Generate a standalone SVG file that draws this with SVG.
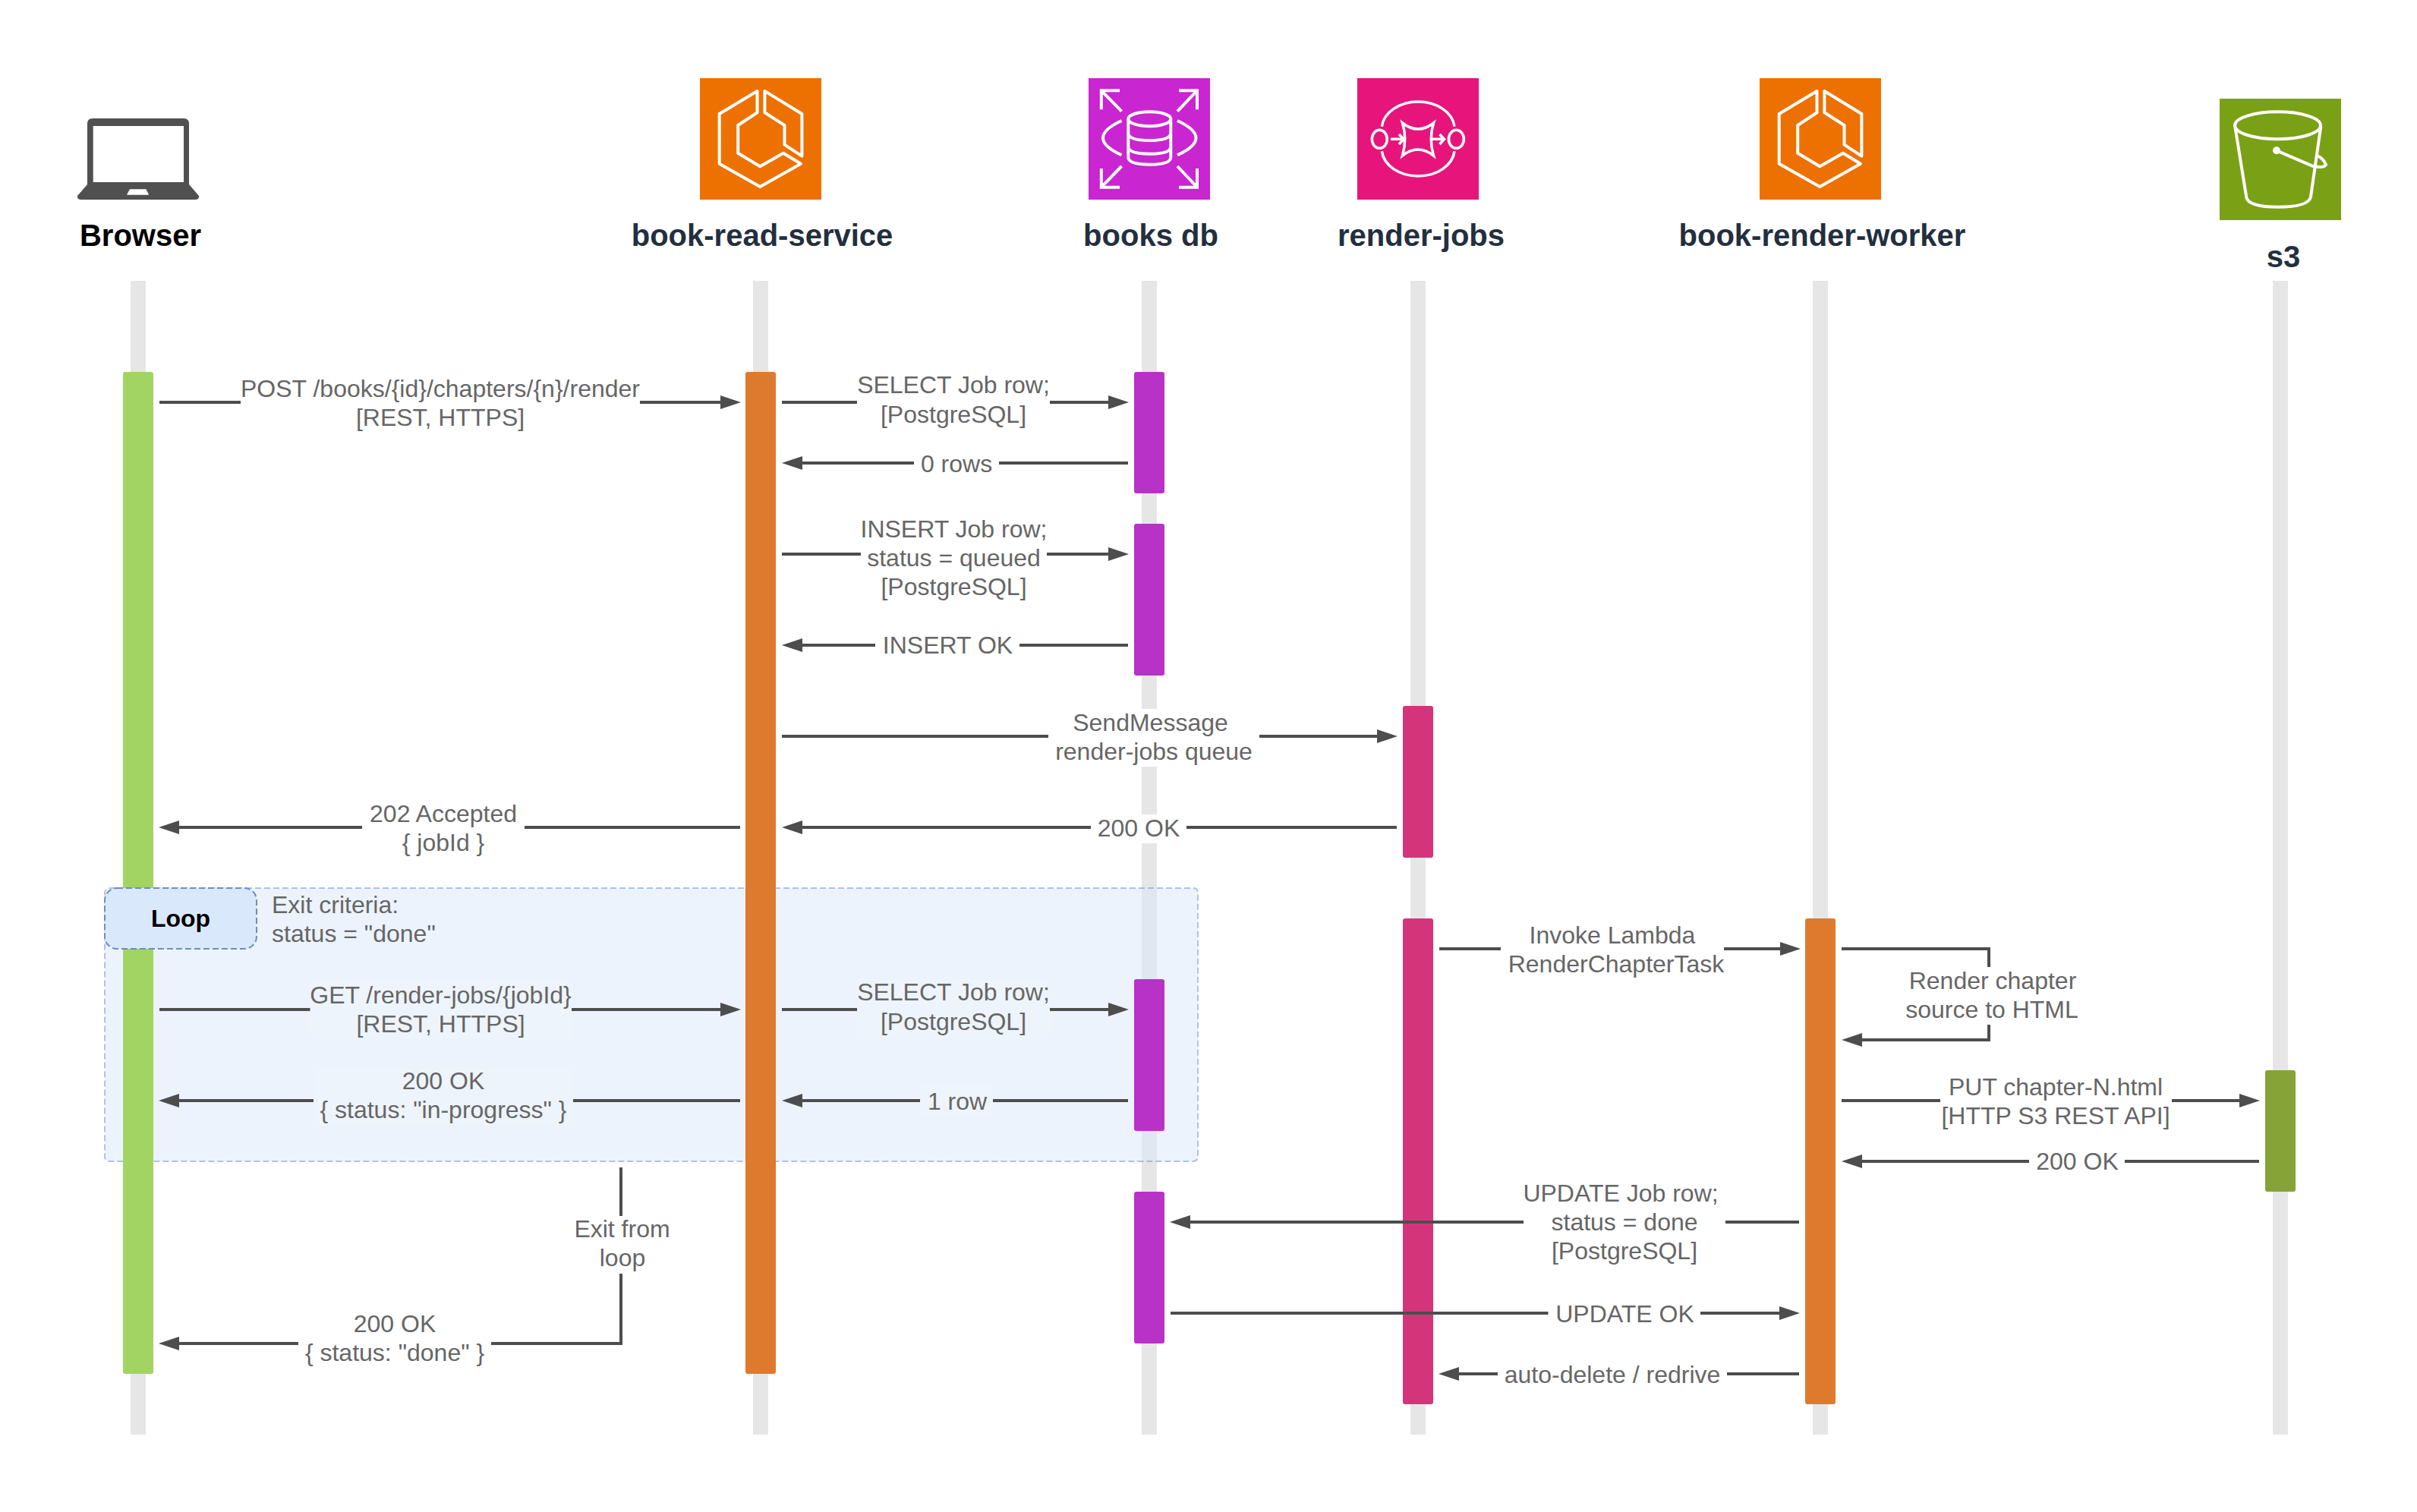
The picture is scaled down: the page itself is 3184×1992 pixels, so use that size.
<svg xmlns="http://www.w3.org/2000/svg" width="3184" height="1992" viewBox="0 0 3184 1992">
<style>
text{font-family:"Liberation Sans",Arial,sans-serif}
.l{font-size:32px;fill:#666;text-anchor:middle}
.ls{font-size:32px;fill:#666}
.h{font-size:40px;font-weight:700;fill:#232f3e;text-anchor:middle}
.ll{fill:#e6e6e6}
.bg{fill:#fff}
.bgl{fill:#eef4fc}
.c{fill:none;stroke:#4d4d4d;stroke-width:4}
.a{marker-end:url(#ah)}
.ic{fill:none;stroke:#fff;stroke-width:4}
.act-b{fill:#a2d463}.act-o{fill:#de7a2d}.act-p{fill:#b832c8}.act-k{fill:#d4357a}.act-g{fill:#86a338}
</style>
<defs>
<marker id="ah" markerUnits="userSpaceOnUse" markerWidth="27" markerHeight="18" refX="17" refY="9" orient="auto"><path d="M0 0L27 9L0 18z" fill="#4d4d4d"/></marker>
<symbol id="ecs" viewBox="0 0 160 160" width="160" height="160">
<rect width="160" height="160" fill="#ed7100"/>
<path class="ic" stroke-linejoin="round" d="M75.500 17V45.300L50.200 62V98.700L79.300 116.300L109.900 98.700L132.900 112.700L79.300 143L25.700 112.700V47Z"/>
<path class="ic" stroke-linejoin="round" d="M85.400 17V45.300L111.500 62V87.700L134.400 102.700V47Z"/>
</symbol>
</defs>
<rect width="3184" height="1992" fill="#fff"/>

<g id="node-browser">
<rect class="ll" x="172" y="370" width="20" height="1520"/>
<path fill="#505050" fill-rule="evenodd" d="M115 163Q115 156 122 156H242Q249 156 249 163V243L262 258Q263 263 257 263H107Q101 263 102 258L115 243ZM122.700 166V240H242V166ZM171 249.300L167 256.700H196.200L192.400 249.300Z"/>
<text x="185" y="324" class="h" style="fill:#000">Browser</text>
</g>
<g id="node-book-read-service">
<rect class="ll" x="992" y="370" width="20" height="1520"/>
<use href="#ecs" x="922" y="103"/>
<text x="1004" y="324" class="h">book-read-service</text>
</g>
<g id="node-books-db">
<rect class="ll" x="1504" y="370" width="20" height="1520"/>
<g transform="translate(1434 103)">
<rect width="160" height="160" fill="#c925d1"/>
<g class="ic">
<ellipse cx="80.300" cy="53.700" rx="28" ry="9.500"/>
<path d="M52.300 53.700V104Q52.300 113.700 80.300 113.700T108.300 104V53.700M52.300 72Q52.300 82 80.300 82T108.300 72M52.300 90Q52.300 99.700 80.300 99.700T108.300 90"/>
<path d="M43.500 56Q-5.500 78.700 43.500 101.300M117 56Q166 78.700 117 101.300"/>
<path d="M41 16.300H16.800V41.300M16.800 16.300L43.500 43.700M119 16.300H143V41.300M143 16.300L117 43.700M41 143.700H16.800V119M16.800 143.700L43.500 116M119 143.700H143V119M143 143.700L117 116"/>
</g>
</g>
<text x="1516" y="324" class="h">books db</text>
</g>
<g id="node-render-jobs">
<rect class="ll" x="1858" y="370" width="20" height="1520"/>
<g transform="translate(1788 103)">
<rect width="160" height="160" fill="#e7157b"/>
<g class="ic" stroke-width="3.500" style="stroke-width:3.500">
<path d="M32.400 63.700A48 36 0 0 1 128 63.700M32.400 96.300A48 36 0 0 0 128 96.300"/>
<ellipse cx="29.300" cy="80.300" rx="10" ry="12"/><ellipse cx="130.400" cy="80.300" rx="10" ry="12"/>
<path d="M59.500 59Q80 75 100.500 59Q94 80 100.500 102Q80 86 59.500 102Q66 80 59.500 59Z"/>
<path d="M44 80.300H61M55 74L61 80.300L55 87M97.500 80.300H114.500M108.500 74L114.500 80.300L108.500 87"/>
</g>
</g>
<text x="1872" y="324" class="h">render-jobs</text>
</g>
<g id="node-book-render-worker">
<rect class="ll" x="2388" y="370" width="20" height="1520"/>
<use href="#ecs" x="2318" y="103"/>
<text x="2400.500" y="324" class="h">book-render-worker</text>
</g>
<g id="node-s3">
<rect class="ll" x="2994" y="370" width="20" height="1520"/>
<g transform="translate(2924 130)">
<rect width="160" height="160" fill="#7aa116"/>
<g class="ic">
<ellipse cx="76.500" cy="35.300" rx="56.500" ry="18"/>
<path d="M20.300 36.700L35.300 130Q38 142.700 77 142.700T119.900 130L133.300 36.700"/>
<path d="M75 68.300L122 88.500Q137 92 140 87Q137 79 128.400 75"/>
</g>
<circle cx="75" cy="68.300" r="5" fill="#fff"/>
</g>
<text x="3008" y="352" class="h">s3</text>
</g>

<rect id="loop-frame" x="138" y="1170" width="1440" height="360" rx="6" fill="#dae8fc" fill-opacity=".5" stroke="#6c8ebf" stroke-opacity=".5" stroke-width="2" stroke-dasharray="8 4"/>

<g id="activations">
<rect class="act-b" x="162" y="490" width="40" height="1320" rx="3"/>
<rect class="act-o" x="982" y="490" width="40" height="1320" rx="3"/>
<rect class="act-p" x="1494" y="490" width="40" height="160" rx="3"/>
<rect class="act-p" x="1494" y="690" width="40" height="200" rx="3"/>
<rect class="act-p" x="1494" y="1290" width="40" height="200" rx="3"/>
<rect class="act-p" x="1494" y="1570" width="40" height="200" rx="3"/>
<rect class="act-k" x="1848" y="930" width="40" height="200" rx="3"/>
<rect class="act-k" x="1848" y="1210" width="40" height="640" rx="3"/>
<rect class="act-o" x="2378" y="1210" width="40" height="640" rx="3"/>
<rect class="act-g" x="2984" y="1410" width="40" height="160" rx="3"/>
</g>

<g id="loop-label">
<rect x="138" y="1170" width="200" height="80" rx="16" fill="#dae8fc" stroke="#6c8ebf" stroke-width="2" stroke-dasharray="8 4"/>
<text x="238" y="1221" style="font-size:32px;font-weight:700;fill:#000;text-anchor:middle">Loop</text>
<text class="ls" x="358" y="1203">Exit criteria:</text>
<text class="ls" x="358" y="1241">status = "done"</text>
</g>

<g id="connectors">
<path class="c a" d="M210 530H966"/>
<path class="c a" d="M1030 530H1477"/>
<path class="c a" d="M1486 610H1040"/>
<path class="c a" d="M1030 730H1477"/>
<path class="c a" d="M1486 850H1040"/>
<path class="c a" d="M1030 970H1831"/>
<path class="c a" d="M1840 1090H1040"/>
<path class="c a" d="M975 1090H219"/>
<path class="c a" d="M210 1330H966"/>
<path class="c a" d="M1030 1330H1477"/>
<path class="c a" d="M1486 1450H1040"/>
<path class="c a" d="M975 1450H219"/>
<path class="c a" d="M1896 1250H2362"/>
<path class="c a" d="M2426 1250H2620V1370H2436"/>
<path class="c a" d="M2426 1450H2967"/>
<path class="c a" d="M2976 1530H2436"/>
<path class="c a" d="M2370 1610H1551"/>
<path class="c a" d="M1542 1730H2361"/>
<path class="c a" d="M2370 1810H1905"/>
<path class="c a" d="M818 1538V1770H219"/>

<rect class="bg" x="317" y="492" width="526" height="77"/>
<text class="l"><tspan x="580" y="523">POST /books/{id}/chapters/{n}/render</tspan><tspan x="580" y="561">[REST, HTTPS]</tspan></text>
<rect class="bg" x="1129" y="490" width="254" height="77"/>
<text class="l"><tspan x="1256" y="518">SELECT Job row;</tspan><tspan x="1256" y="557">[PostgreSQL]</tspan></text>
<rect class="bg" x="1204" y="590" width="112" height="40"/>
<text class="l" x="1260" y="622">0 rows</text>
<rect class="bg" x="1134" y="675" width="245" height="115"/>
<text class="l"><tspan x="1256.500" y="708">INSERT Job row;</tspan><tspan x="1256.500" y="746">status = queued</tspan><tspan x="1256.500" y="784">[PostgreSQL]</tspan></text>
<rect class="bg" x="1153" y="830" width="190" height="40"/>
<text class="l" x="1248.500" y="861">INSERT OK</text>
<rect class="bg" x="1381" y="934" width="278" height="76"/>
<text class="l"><tspan x="1515.500" y="963">SendMessage</tspan><tspan x="1520" y="1001">render-jobs queue</tspan></text>
<rect class="bg" x="1437" y="1073" width="126" height="38"/>
<text class="l" x="1500" y="1102">200 OK</text>
<rect class="bg" x="477" y="1052" width="214" height="77"/>
<text class="l"><tspan x="584" y="1083">202 Accepted</tspan><tspan x="584" y="1121">{ jobId }</tspan></text>

<rect class="bgl" x="408.500" y="1292" width="344.500" height="75"/>
<text class="l"><tspan x="580.500" y="1322">GET /render-jobs/{jobId}</tspan><tspan x="580.500" y="1360">[REST, HTTPS]</tspan></text>
<rect class="bgl" x="1129" y="1290" width="254" height="77"/>
<text class="l"><tspan x="1256" y="1318">SELECT Job row;</tspan><tspan x="1256" y="1357">[PostgreSQL]</tspan></text>
<rect class="bgl" x="1212" y="1430" width="96" height="40"/>
<text class="l" x="1261" y="1462">1 row</text>
<rect class="bgl" x="413" y="1407" width="342" height="75"/>
<text class="l"><tspan x="584" y="1435">200 OK</tspan><tspan x="584" y="1473">{ status: "in-progress" }</tspan></text>

<rect class="bg" x="1977" y="1212" width="294" height="77"/>
<text class="l"><tspan x="2124" y="1243">Invoke Lambda</tspan><tspan x="2129" y="1281">RenderChapterTask</tspan></text>
<rect class="bg" x="2511" y="1274" width="226" height="76"/>
<text class="l"><tspan x="2625" y="1303">Render chapter</tspan><tspan x="2624" y="1341">source to HTML</tspan></text>
<rect class="bg" x="2556" y="1412" width="305" height="77"/>
<text class="l"><tspan x="2708" y="1443">PUT chapter-N.html</tspan><tspan x="2708" y="1481">[HTTP S3 REST API]</tspan></text>
<rect class="bg" x="2673" y="1510" width="126" height="40"/>
<text class="l" x="2736.500" y="1541">200 OK</text>
<rect class="bg" x="2007" y="1552" width="266" height="115"/>
<text class="l"><tspan x="2135" y="1583">UPDATE Job row;</tspan><tspan x="2140" y="1621">status = done</tspan><tspan x="2140" y="1659">[PostgreSQL]</tspan></text>
<rect class="bg" x="2039.500" y="1710" width="200.500" height="40"/>
<text class="l" x="2140.500" y="1742">UPDATE OK</text>
<rect class="bg" x="1973" y="1790" width="302" height="40"/>
<text class="l" x="2124" y="1822">auto-delete / redrive</text>
<rect class="bg" x="760" y="1602" width="120" height="76"/>
<text class="l"><tspan x="819.500" y="1630">Exit from</tspan><tspan x="820" y="1668">loop</tspan></text>
<rect class="bg" x="393" y="1732" width="254" height="77"/>
<text class="l"><tspan x="520" y="1755">200 OK</tspan><tspan x="520" y="1793">{ status: "done" }</tspan></text>
</g>
</svg>
